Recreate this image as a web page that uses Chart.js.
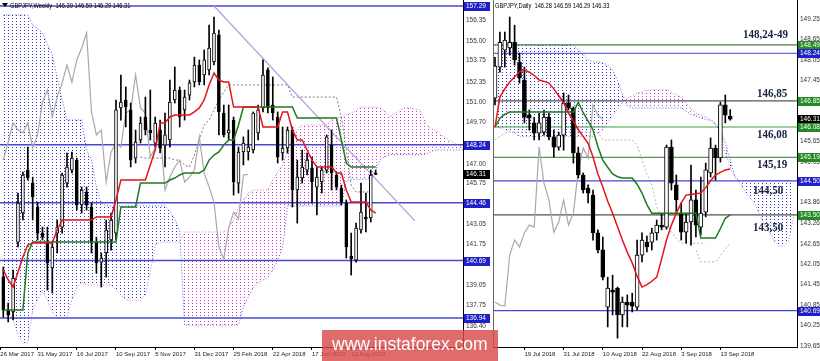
<!DOCTYPE html>
<html>
<head>
<meta charset="utf-8">
<title>GBPJPY Ichimoku</title>
<script src="https://cdn.jsdelivr.net/npm/chart.js@4.4.1/dist/chart.umd.min.js"></script>
<style>
body { margin: 0; background: #fff; }
#wrap { position: relative; width: 820px; height: 361px; overflow: hidden; background: #fff; }
#weekly { position: absolute; left: 0; top: 0; }
#daily { position: absolute; left: 490px; top: 0; }
#stamp { position: absolute; left: 322px; top: 330px; width: 176px; height: 31px; background: rgba(216, 74, 74, 0.82); }
#stamp span { position: absolute; left: 10px; top: 6px; color: #fff; font: 17.5px "Liberation Sans", Arial, sans-serif; line-height: 1; white-space: nowrap; }
</style>
</head>
<body>
<div id="wrap">
  <canvas id="weekly" width="490" height="361"></canvas>
  <canvas id="daily" width="330" height="361"></canvas>
  <div id="stamp"><span>www.instaforex.com</span></div>
</div>
<script>
// ---------- weekly panel, slot 0 = first week on screen ----------
const weeklyOpen = [
  139.61, 137.46, 137.33, 141.89, 143.79, 146.59, 145.74, 144.18, 142.48, 141.89,
  140.20, 142.48, 142.87, 145.74, 146.59, 147.24, 144.31, 145.16, 144.18, 141.89,
  140.59, 141.18, 142.03, 142.48, 150.64, 151.16, 150.51, 147.37, 148.55, 150.05,
  149.20, 148.35, 149.20, 148.22, 148.55, 151.16, 151.81, 150.51, 151.48, 152.33,
  153.44, 152.79, 153.12, 153.64, 155.40, 150.31, 149.01, 149.85, 145.74, 147.77,
  147.77, 147.90, 149.01, 150.64, 153.12, 150.83, 150.05, 147.70, 148.03, 149.20,
  145.29, 146.07, 146.59, 146.72, 145.48, 145.81, 146.59, 148.22, 146.27, 145.42,
  144.44, 140.98, 140.72, 142.68, 143.53, 143.46, 146.39
];
const weeklyHigh = [
  140.26, 137.92, 140.07, 145.09, 146.46, 148.09, 146.13, 144.50, 142.87, 142.87,
  141.83, 143.33, 146.40, 147.70, 147.77, 147.37, 145.48, 145.48, 144.44, 142.22,
  141.18, 143.33, 143.79, 151.16, 152.79, 152.01, 150.96, 149.20, 150.05, 151.35,
  151.81, 150.05, 149.85, 150.31, 152.46, 153.31, 152.01, 151.81, 152.46, 153.96,
  153.77, 154.42, 156.05, 156.57, 155.72, 150.83, 150.83, 150.05, 148.09, 148.75,
  149.20, 150.38, 150.83, 153.77, 153.25, 152.66, 150.38, 149.40, 149.40, 149.40,
  147.24, 147.90, 147.70, 147.44, 146.79, 146.79, 148.88, 149.20, 146.46, 145.61,
  144.64, 142.48, 143.13, 145.74, 145.09, 146.59, 146.59
];
const weeklyLow = [
  137.00, 136.68, 136.81, 141.57, 143.33, 145.94, 143.33, 142.03, 142.03, 138.76,
  138.57, 141.18, 142.48, 145.48, 146.40, 143.98, 143.79, 143.98, 141.18, 139.87,
  138.96, 139.61, 141.37, 142.03, 149.85, 149.40, 146.79, 147.05, 148.35, 148.88,
  148.55, 148.09, 147.70, 146.79, 148.09, 150.96, 149.40, 149.85, 151.16, 152.01,
  152.14, 152.14, 152.79, 153.44, 148.88, 148.75, 148.55, 144.96, 145.09, 146.92,
  147.24, 147.70, 148.55, 150.38, 150.31, 149.85, 147.05, 147.24, 147.70, 144.18,
  143.13, 145.74, 146.27, 144.44, 143.66, 145.09, 146.40, 145.29, 145.29, 144.31,
  140.85, 139.74, 140.59, 142.48, 142.55, 143.20, 146.29
];
const weeklyClose = [
  137.46, 137.13, 139.55, 144.44, 146.27, 146.07, 144.83, 142.48, 142.22, 140.53,
  141.57, 142.87, 146.27, 146.79, 147.37, 144.31, 145.29, 144.31, 141.89, 140.53,
  140.85, 142.68, 143.33, 150.51, 151.03, 150.70, 147.24, 148.42, 149.66, 149.20,
  149.01, 149.66, 148.03, 148.88, 151.03, 151.81, 150.05, 151.35, 152.27, 153.44,
  152.33, 153.77, 154.55, 155.53, 150.38, 148.88, 149.20, 145.81, 147.77, 148.35,
  148.09, 150.31, 150.51, 152.79, 150.64, 150.31, 147.44, 148.03, 149.20, 145.29,
  146.13, 146.79, 147.24, 145.81, 146.13, 146.59, 148.75, 146.40, 145.48, 144.50,
  141.57, 140.79, 142.81, 143.85, 143.40, 146.27, 146.31
];
const weeklyTenkan = [
  140.07, 139.42, 138.96, 139.94, 140.92, 141.70, 141.83, 141.83, 141.83, 141.83,
  141.83, 142.68, 143.33, 143.33, 143.33, 143.33, 143.33, 143.33, 143.33, 143.53,
  143.53, 143.53, 143.53, 144.64, 145.94, 145.94, 145.94, 145.94, 145.94, 145.94,
  146.92, 147.90, 149.66, 149.66, 150.05, 150.18, 150.18, 150.18, 150.18, 150.38,
  150.64, 151.16, 152.14, 152.92, 152.46, 152.33, 152.33, 150.70, 150.70, 150.70,
  150.70, 150.70, 150.70, 149.40, 149.40, 149.40, 149.40, 150.38, 150.38, 149.20,
  148.55, 148.55, 147.90, 147.24, 146.79, 146.79, 146.79, 146.79, 146.40, 146.40,
  145.29, 144.50, 144.50, 144.50, 144.50, 143.98, 143.79
];
const weeklyKijun = [
  137.46, 137.46, 137.46, 137.46, 137.46, 141.18, 141.89, 141.89, 141.89, 141.89,
  141.89, 141.89, 141.89, 141.89, 141.89, 141.89, 141.89, 141.89, 141.89, 141.89,
  141.89, 141.89, 141.89, 141.89, 144.18, 144.18, 144.18, 144.18, 145.74, 145.74,
  145.74, 145.74, 145.74, 145.74, 145.94, 146.07, 146.27, 146.40, 146.40, 146.40,
  146.40, 146.59, 147.24, 147.57, 147.77, 148.22, 148.55, 148.55, 149.53, 150.70,
  150.70, 150.70, 150.70, 150.70, 150.70, 150.70, 150.70, 150.70, 150.70, 150.70,
  149.98, 149.98, 149.98, 149.98, 149.98, 149.98, 149.98, 149.98, 149.98, 148.55,
  147.05, 146.79, 146.79, 146.79, 146.79, 146.79, 146.79
];
// cloud runs 26 weeks past the last candle: 95 slots
const weeklySpanA = [
  138.11, 137.46, 136.81, 135.83, 135.31, 135.31, 137.46, 138.11, 138.76, 138.11,
  137.33, 136.94, 136.94, 137.00, 138.11, 138.89, 139.29, 139.09, 139.09, 139.09,
  139.09, 139.09, 139.09, 138.76, 138.44, 138.11, 138.11, 138.11, 138.11, 138.44,
  139.94, 141.70, 141.89, 141.89, 141.89, 141.89, 141.89, 142.55, 142.55, 142.55,
  142.55, 142.55, 142.55, 142.55, 142.55, 142.55, 142.81, 143.33, 144.18, 144.64,
  145.09, 145.29, 145.29, 145.29, 145.29, 145.94, 146.46, 146.92, 147.90, 148.55,
  149.20, 149.53, 149.53, 149.53, 149.53, 149.53, 149.53, 149.85, 149.98, 150.05,
  150.18, 150.31, 150.51, 150.70, 150.70, 150.70, 150.70, 150.64, 150.38, 150.05,
  150.31, 150.51, 150.64, 150.64, 150.57, 150.51, 149.85, 149.33, 149.20, 149.01,
  148.75, 148.55, 148.35, 148.22, 148.16
];
const weeklySpanB = [
  156.70, 156.70, 156.70, 156.70, 156.70, 156.70, 156.05, 155.80, 155.53, 154.80,
  154.10, 152.60, 151.20, 149.85, 149.85, 149.85, 149.85, 147.90, 147.24, 145.48,
  144.44, 144.25, 144.25, 144.25, 144.25, 144.25, 144.25, 144.25, 144.25, 144.25,
  144.25, 144.25, 144.25, 144.25, 143.90, 143.40, 142.60, 136.48, 136.48, 136.48,
  136.48, 136.48, 136.48, 136.48, 136.48, 136.48, 136.48, 136.48, 136.48, 137.65,
  138.31, 138.89, 139.22, 139.42, 139.61, 140.07, 140.72, 141.50, 144.25, 144.25,
  144.25, 144.25, 144.25, 144.25, 144.25, 144.25, 144.25, 144.25, 144.25, 144.25,
  145.90, 146.00, 146.00, 146.00, 146.00, 146.00, 146.60, 147.30, 147.50, 147.60,
  147.60, 147.60, 147.60, 147.60, 147.60, 147.60, 147.60, 147.75, 147.90, 147.90,
  147.90, 147.90, 147.90, 147.90, 147.90
];
const weeklyGuideStart = 28;
const weeklyGuide = [
  147.44, 147.37, 147.37, 147.37, 147.37, 147.37, 147.37, 147.24, 147.24, 146.92,
  146.79, 147.57, 148.55, 149.53, 149.85, 150.51, 151.16, 151.68, 152.14, 152.14,
  152.14, 152.14, 152.14, 152.14, 152.14, 152.14, 152.14, 152.14, 152.14, 152.14,
  152.14, 151.35, 151.35, 151.35, 151.35, 151.35, 151.35, 151.35, 151.35, 151.35,
  151.35, 150.05, 147.90, 145.61, 145.16, 145.16, 145.16, 145.16
];
const weeklyTrendSlots = [43, 84];
const weeklyTrend = [157.29, 143.28];
const weeklyLevels = [157.29, 148.24, 144.46, 140.69, 136.94];
const weeklyMarks = [157.29, 148.24, 146.31, 144.46, 140.69, 136.94];
const weeklyPriceTicks = [156.35, 155.00, 153.75, 152.35, 151.00, 149.70, 147.00, 145.75, 143.05, 141.75, 139.05, 137.75, 136.40];
const weeklyDateSlots = [-0.6, 7, 15, 23, 31, 39, 47, 55, 63, 71];
const weeklyDateLabels = ['26 Mar 2017', '31 May 2017', '16 Jul 2017', '10 Sep 2017', '5 Nov 2017', '31 Dec 2017', '25 Feb 2018', '22 Apr 2018', '17 Jun 2018', '12 Aug 2018'];
const weeklyTitle = 'GBPJPY,Weekly  146.39 146.59 146.29 146.31';

// ---------- daily panel, slot 0 = 11 Jul 2018 ----------
const dailyOpen = [
  146.93, 147.84, 148.34, 148.40, 148.57, 147.99, 147.46, 146.43, 146.20, 145.90,
  145.93, 146.37, 145.79, 145.49, 145.84, 146.78, 146.64, 145.32, 144.67, 144.29,
  144.08, 142.97, 142.47, 140.79, 141.29, 141.35, 140.56, 140.94, 140.94, 140.79,
  142.32, 142.70, 142.70, 142.97, 143.20, 143.14, 145.49, 144.38, 143.55, 142.99,
  143.29, 143.94, 143.14, 143.58, 144.73, 145.46, 145.17, 146.73, 146.40
];
const dailyHigh = [
  148.13, 148.87, 148.87, 149.31, 149.07, 148.25, 147.84, 146.58, 146.37, 146.49,
  146.58, 146.49, 145.99, 145.93, 147.08, 147.02, 146.67, 145.49, 144.73, 144.38,
  144.23, 143.06, 142.85, 141.67, 141.73, 141.38, 141.09, 141.15, 141.20, 142.76,
  142.97, 142.88, 143.11, 143.35, 143.55, 145.55, 145.70, 144.67, 143.85, 143.55,
  144.96, 144.23, 144.61, 145.02, 145.76, 145.55, 146.81, 147.02, 146.59
];
const dailyLow = [
  146.73, 147.69, 147.84, 148.19, 147.90, 147.37, 146.20, 145.99, 145.70, 145.70,
  145.84, 145.70, 145.20, 145.40, 145.40, 146.58, 145.02, 144.58, 144.14, 143.85,
  142.76, 142.38, 141.59, 140.21, 140.56, 139.88, 140.21, 140.21, 140.65, 140.71,
  142.12, 142.41, 142.47, 142.76, 143.06, 143.08, 144.23, 143.58, 142.76, 142.67,
  142.61, 142.85, 142.91, 143.44, 144.61, 144.52, 145.05, 146.20, 146.28
];
const dailyClose = [
  147.87, 148.57, 148.63, 148.57, 148.05, 147.52, 146.37, 146.34, 145.90, 146.20,
  146.37, 145.79, 145.49, 145.84, 146.78, 146.64, 145.32, 144.67, 144.23, 144.14,
  142.97, 142.47, 141.67, 141.35, 141.23, 140.56, 140.94, 140.85, 140.82, 142.32,
  142.76, 142.56, 142.97, 143.20, 143.14, 145.49, 144.43, 143.94, 142.99, 143.29,
  143.94, 143.20, 143.55, 144.82, 145.46, 145.17, 146.73, 146.43, 146.31
];
const dailyTenkan = [
  146.08, 146.96, 147.20, 147.40, 147.55, 147.70, 147.75, 147.69, 147.60, 147.46,
  147.42, 147.37, 147.20, 147.00, 146.80, 146.49, 146.25, 146.00, 145.80, 145.60,
  145.20, 144.70, 144.32, 143.90, 143.55, 143.15, 142.76, 142.40, 142.09, 141.70,
  141.38, 141.45, 141.55, 141.67, 142.20, 142.76, 143.20, 143.55, 143.85, 144.08,
  144.10, 144.12, 144.14, 144.30, 144.50, 144.67, 144.75, 144.82, 144.85
];
const dailyKijun = [
  146.08, 146.34, 146.45, 146.52, 146.52, 146.52, 146.52, 146.52, 146.52, 146.52,
  146.52, 146.52, 146.52, 146.52, 146.52, 146.52, 146.52, 146.81, 146.50, 146.25,
  146.00, 145.50, 145.11, 144.90, 144.70, 144.62, 144.58, 144.58, 144.58, 144.40,
  144.14, 143.80, 143.55, 143.55, 143.55, 143.55, 143.55, 143.55, 143.55, 143.55,
  143.55, 143.55, 142.82, 142.82, 142.82, 142.82, 143.10, 143.40, 143.50
];
// cloud runs 26 days past the last candle, cut by the price axis: 62 slots
const dailySpanA = [
  146.10, 146.05, 146.00, 145.95, 145.90, 145.80, 145.80, 145.80, 145.80, 145.80,
  145.80, 145.80, 145.80, 145.80, 145.80, 145.80, 145.80, 145.80, 145.80, 145.80,
  145.80, 145.90, 146.00, 146.20, 146.40, 146.60, 146.80, 146.93, 147.00, 147.08,
  147.11, 147.15, 147.17, 147.17, 147.17, 147.17, 147.10, 147.03, 146.96, 146.80,
  146.60, 146.50, 146.42, 146.37, 146.30, 146.20, 145.90, 145.30, 144.90, 144.60,
  144.43, 144.20, 144.00, 143.85, 143.50, 143.20, 143.00, 142.75, 142.56, 142.60,
  142.76, 143.50
];
const dailySpanB = [
  148.49, 148.49, 148.49, 148.49, 148.49, 148.49, 148.49, 148.49, 148.49, 148.49,
  148.49, 148.49, 148.49, 148.49, 148.49, 148.49, 148.49, 148.35, 148.20, 148.05,
  148.00, 147.98, 147.96, 147.90, 147.75, 147.45, 147.05, 146.70, 146.64, 146.64,
  146.64, 146.64, 146.64, 146.64, 146.64, 146.64, 146.64, 146.64, 146.64, 146.55,
  146.45, 146.40, 146.35, 146.30, 146.28, 146.15, 146.00, 145.60, 145.11, 144.61,
  144.50, 144.50, 144.50, 144.50, 144.50, 144.50, 144.50, 144.50, 144.50, 144.50,
  144.50, 144.50
];
const dailyGuide = [
  145.70, 145.80, 145.90, 145.93, 145.93, 145.93, 145.93, 145.93, 145.93, 145.93,
  145.93, 145.93, 145.93, 145.93, 145.93, 145.93, 145.93, 145.93, 145.93, 145.93,
  145.93, 145.93, 145.70, 145.70, 145.70, 145.70, 145.70, 145.70, 145.70, 145.55,
  145.11, 144.70, 144.38, 143.73, 143.45, 143.26, 143.00, 142.80, 142.67, 142.67,
  142.67, 142.67, 142.67, 142.67
];
const dailyGuide2Start = 41;
const dailyGuide2 = [142.47, 142.12, 142.12, 142.12, 142.12, 142.30, 142.50, 142.67];
const dailyLevels = [148.49, 148.24, 146.85, 146.08, 145.19, 144.50, 143.50, 140.69];
const dailyMarks = [148.49, 148.24, 146.85, 146.31, 146.08, 145.19, 144.50, 143.50, 140.69];
const dailyPriceTicks = [149.25, 148.65, 148.05, 147.45, 145.65, 145.05, 143.86, 143.26, 142.65, 142.05, 141.45, 140.85, 140.25, 139.65];
const dailyDateSlots = [6, 14, 22, 30, 38, 46];
const dailyDateLabels = ['19 Jul 2018', '31 Jul 2018', '10 Aug 2018', '22 Aug 2018', '3 Sep 2018', '13 Sep 2018'];
const dailyNotes = ['148,24-49', '146,85', '146,08', '145,19', '144,50', '143,50'];
const dailyNoteLevels = [148.49, 146.85, 146.08, 145.19, 144.50, 143.50];
const dailyTitle = 'GBPJPY,Daily  146.28 146.59 146.29 146.33';

const chikouShift = 26;

// ---------- styles ----------
const levelBlue = '#4848d4';
const boxBlue = '#2020c8';
const boxGreen = '#248a24';
const weeklyLevelColors = [levelBlue, levelBlue, levelBlue, levelBlue, levelBlue];
const weeklyMarkColors = [boxBlue, boxBlue, '#000', boxBlue, boxBlue, boxBlue];
const dailyLevelColors = ['#4f7a4f', '#6a6ae8', '#4e5a4e', '#3f9f3f', '#5f8f5f', levelBlue, '#4a554a', levelBlue];
const dailyMarkColors = [boxGreen, boxBlue, boxGreen, '#000', boxGreen, boxGreen, boxBlue, boxGreen, boxBlue];
// note placement: canvas x and baseline offset from its level, in px
const dailyNoteX = [253, 267, 267, 267, 263, 263];
const dailyNoteDy = [-7, -4, 11, 11, 13, 16];

function points(values, start) {
  return values.map(function (v, i) { return { x: i + (start || 0), y: v }; });
}

// sparse dot grid, like the terminal's dotted cloud
function dotPattern(canvas, color) {
  var tile = document.createElement('canvas');
  tile.width = 4;
  tile.height = 3;
  var g = tile.getContext('2d');
  g.fillStyle = color;
  g.fillRect(0, 0, 1, 1);
  return canvas.getContext('2d').createPattern(tile, 'repeat');
}

function line(data, color, width, dash, order) {
  return {
    type: 'line', data: data, borderColor: color, borderWidth: width, borderDash: dash || [],
    pointRadius: 0, tension: 0, fill: false, order: order
  };
}

function candles(open, high, low, close, width) {
  return [
    {
      type: 'bar', order: 4, grouped: false, barThickness: 1, backgroundColor: '#000',
      data: open.map(function (o, i) { return { x: i, y: [low[i], high[i]] }; })
    },
    {
      type: 'bar', order: 3, grouped: false, barThickness: width, minBarLength: 1,
      borderColor: '#000', borderWidth: 1, borderSkipped: false,
      backgroundColor: open.map(function (o, i) { return close[i] >= o ? '#fff' : '#000'; }),
      data: open.map(function (o, i) { return { x: i, y: [o, close[i]] }; })
    }
  ];
}

function dateAxis(min, max, slots, labels) {
  return {
    type: 'linear', min: min, max: max, offset: false,
    grid: { display: true, drawOnChartArea: false, drawTicks: true, tickLength: 3, color: '#000', offset: false },
    border: { display: true, color: '#000', width: 1 },
    ticks: {
      autoSkip: false, maxRotation: 0, minRotation: 0, align: 'start', padding: 1, color: '#222',
      font: { family: 'Liberation Sans', size: 6 },
      callback: function (v, i) { return labels[i]; }
    },
    afterBuildTicks: function (s) { s.ticks = slots.map(function (v) { return { value: v }; }); },
    afterFit: function (s) { s.height = 14; s.paddingLeft = 0; s.paddingRight = 0; }
  };
}

function priceAxis(min, max, ticks, width) {
  return {
    type: 'linear', position: 'right', min: min, max: max, beginAtZero: false,
    grid: { display: false, drawTicks: false, tickLength: 0 },
    border: { display: true, color: '#000', width: 1 },
    ticks: {
      autoSkip: false, padding: 3, color: '#333',
      font: { family: 'Liberation Sans', size: 6.5 },
      callback: function (v) { return v.toFixed(2); }
    },
    afterBuildTicks: function (s) { s.ticks = ticks.map(function (v) { return { value: v }; }); },
    afterFit: function (s) { s.width = width; s.paddingTop = 0; s.paddingBottom = 0; }
  };
}

// title, price boxes on the axis, hand-written notes
function overlay(cfg) {
  return {
    id: 'overlay',
    afterDraw: function (chart) {
      var ctx = chart.ctx, ys = chart.scales.y, area = chart.chartArea;
      ctx.save();
      if (cfg.leftEdge) {
        ctx.strokeStyle = '#666';
        ctx.lineWidth = 1;
        ctx.beginPath();
        ctx.moveTo(area.left + 0.5, area.top);
        ctx.lineTo(area.left + 0.5, area.bottom);
        ctx.stroke();
      }
      ctx.fillStyle = '#000';
      if (cfg.icon) {
        ctx.beginPath();
        ctx.moveTo(2, 3); ctx.lineTo(8, 3); ctx.lineTo(5, 7);
        ctx.closePath();
        ctx.fill();
      }
      ctx.font = '7px "Liberation Sans"';
      ctx.textBaseline = 'alphabetic';
      ctx.save();
      ctx.translate(cfg.titleX, 8);
      ctx.scale(0.82, 1);
      ctx.fillText(cfg.title, 0, 0);
      ctx.restore();

      ctx.font = '6.5px "Liberation Sans"';
      ctx.textBaseline = 'middle';
      cfg.marks.forEach(function (m, i) {
        var y = Math.round(ys.getPixelForValue(m));
        ctx.fillStyle = cfg.markColors[i];
        ctx.fillRect(ys.left + 1, y - 4, ys.right - ys.left - 1, 9);
        ctx.fillStyle = '#fff';
        ctx.fillText(m.toFixed(2), ys.left + 3, y + 0.5);
      });

      if (cfg.notes) {
        ctx.font = 'bold 13px "Liberation Serif"';
        ctx.textBaseline = 'alphabetic';
        ctx.fillStyle = '#17233f';
        cfg.notes.forEach(function (t, i) {
          ctx.save();
          ctx.translate(cfg.noteX[i], ys.getPixelForValue(cfg.noteLevels[i]) + cfg.noteDy[i]);
          ctx.scale(0.85, 1);
          ctx.fillText(t, 0, 0);
          ctx.restore();
        });
      }
      ctx.restore();
    }
  };
}

function buildWeekly() {
  var canvas = document.getElementById('weekly');
  var xMin = -0.673, xMax = 93.82;
  var spanA = line(points(weeklySpanA), '#d36ad3', 1, [1, 2], 19);
  spanA.fill = { target: 0, above: dotPattern(canvas, '#c83cc8'), below: dotPattern(canvas, '#3030cc') };
  var datasets = [
    line(points(weeklySpanB), '#5a5ae0', 1, [1, 2], 20),
    spanA,
    line(points(weeklyGuide, weeklyGuideStart), '#7d7d7d', 1, [2, 2], 15)
  ];
  weeklyLevels.forEach(function (v, i) {
    datasets.push(line([{ x: xMin, y: v }, { x: xMax, y: v }], weeklyLevelColors[i], 1.5, [], 14));
  });
  datasets.push(line(weeklyTrend.map(function (v, i) { return { x: weeklyTrendSlots[i], y: v }; }), '#b89ae0', 1.2, [], 13));
  datasets.push(line(points(weeklyClose.slice(chikouShift)), '#a9a9a9', 1.2, [], 12));
  candles(weeklyOpen, weeklyHigh, weeklyLow, weeklyClose, 3).forEach(function (d) { datasets.push(d); });
  datasets.push(line(points(weeklyKijun), '#1f7a1f', 1.5, [], 2));
  datasets.push(line(points(weeklyTenkan), '#e3141b', 1.5, [], 1));

  new Chart(canvas, {
    type: 'bar',
    data: { datasets: datasets },
    options: {
      responsive: false, animation: false, events: [],
      layout: { padding: { left: 0, right: 0, top: 0, bottom: 0 } },
      plugins: { legend: { display: false }, tooltip: { enabled: false } },
      scales: {
        x: dateAxis(xMin, xMax, weeklyDateSlots, weeklyDateLabels),
        y: priceAxis(135.05, 157.68, weeklyPriceTicks, 27)
      }
    },
    plugins: [overlay({ title: weeklyTitle, titleX: 10, icon: true, marks: weeklyMarks, markColors: weeklyMarkColors })]
  });
}

function buildDaily() {
  var canvas = document.getElementById('daily');
  var xMin = -0.408, xMax = 61.63;
  var spanA = line(points(dailySpanA), '#d36ad3', 1, [1, 2], 19);
  spanA.fill = { target: 0, above: dotPattern(canvas, '#c83cc8'), below: dotPattern(canvas, '#3030cc') };
  var datasets = [
    line(points(dailySpanB), '#5a5ae0', 1, [1, 2], 20),
    spanA,
    line(points(dailyGuide), '#b4b4b4', 1, [2, 2], 15),
    line(points(dailyGuide2, dailyGuide2Start), '#b4b4b4', 1, [2, 2], 15)
  ];
  dailyLevels.forEach(function (v, i) {
    datasets.push(line([{ x: xMin, y: v }, { x: xMax, y: v }], dailyLevelColors[i], 1.2, [], 14));
  });
  datasets.push(line(points(dailyClose.slice(chikouShift)), '#a9a9a9', 1.2, [], 12));
  candles(dailyOpen, dailyHigh, dailyLow, dailyClose, 4).forEach(function (d) { datasets.push(d); });
  datasets.push(line(points(dailyKijun), '#1f7a1f', 1.5, [], 2));
  datasets.push(line(points(dailyTenkan), '#e3141b', 1.5, [], 1));

  new Chart(canvas, {
    type: 'bar',
    data: { datasets: datasets },
    options: {
      responsive: false, animation: false, events: [],
      layout: { padding: { left: 3, right: 0, top: 0, bottom: 0 } },
      plugins: { legend: { display: false }, tooltip: { enabled: false } },
      scales: {
        x: dateAxis(xMin, xMax, dailyDateSlots, dailyDateLabels),
        y: priceAxis(139.62, 149.81, dailyPriceTicks, 23)
      }
    },
    plugins: [overlay({
      title: dailyTitle, titleX: 5, leftEdge: true, marks: dailyMarks, markColors: dailyMarkColors,
      notes: dailyNotes, noteLevels: dailyNoteLevels, noteX: dailyNoteX, noteDy: dailyNoteDy
    })]
  });
}

buildWeekly();
buildDaily();
</script>
</body>
</html>
